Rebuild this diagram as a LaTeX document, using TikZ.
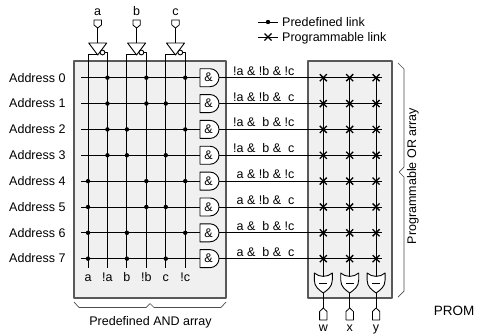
\documentclass[tikz,border=0pt]{standalone}
\usepackage{fontspec}
\setmainfont{Liberation Sans}
\usetikzlibrary{positioning}
\newcommand\off{\phantom{!}}
\tikzset{
  arraybox/.style={draw=black!65,line width=1.2pt,fill=black!6},
  wire/.style={line width=0.9pt},
  pinbox/.style={draw,fill=white,line width=0.8pt},
  bracket/.style={draw=black!70,line width=0.7pt},
}
\begin{document}
\begin{tikzpicture}[x=1pt,y=-1pt,font=\fontsize{12.5}{14}\selectfont,inner sep=0pt,line join=round]
	\useasboundingbox (0,0) rectangle (477,335);
	% the two arrays
	\draw[arraybox] (74,61) rectangle (226,298);
	\draw[arraybox] (308,61) rectangle (392,298);
	% legend
	\draw[wire] (258,22)--(278,22); \fill (268,22) circle(2.2);
	\node[anchor=base west] (lgdpre) at (282,26.3) {Predefined link};
	\draw[wire] (258,37)--(278,37);
	\draw[line width=1.3pt] (264.5,33.5)--(271.5,40.5) (264.5,40.5)--(271.5,33.5);
	\node[anchor=base west] (lgdprog) at (282,41.3) {Programmable link};
	% inputs, buffers and the columns of the AND array
	\foreach \n [count=\k from 0] in {a,b,c}{
		\pgfmathsetmacro\c{97.7+38.9*\k}
		\node[anchor=base] (in\n) at (\c,15) {\n};
		\draw[pinbox] (\c-3.7,20)--(\c+3.7,20)--(\c+3.7,25)--(\c,28)--(\c-3.7,25)--cycle;
		\draw[wire] (\c,28)--(\c,43);
		\draw[wire] (\c-1,54) -| (\c-9.7,268);
		\draw[wire] (\c+7.2,52.5) -| (\c+9.7,268);
		\draw[wire,fill=white] (\c-9,43)--(\c+9,43)--(\c,55)--cycle;
		\draw[wire,fill=white] (\c+4.8,52.5) circle(2.4);
	}
	\foreach \t [count=\j from 0] in {a,!a,b,!b,c,!c}
		\node[anchor=base] (col\j) at (88+19.45*\j,281) {\t};
	% rows, AND gates and product terms
	\foreach \t [count=\i from 0] in {{!a \& !b \& !c},{!a \& !b \& \off c},{!a \& \off b \& !c},{!a \& \off b \& \off c},{\off a \& !b \& !c},{\off a \& !b \& \off c},{\off a \& \off b \& !c},{\off a \& \off b \& \off c}}{
		\pgfmathsetmacro\y{77.7+25.85*\i}
		\node[anchor=base east] (adr\i) at (65.7,\y+4.3) {Address \i};
		\draw[wire] (81,\y)--(200,\y);
		\draw[wire] (219,\y)--(382,\y);
		\draw[wire,fill=white] (200,\y-9)--(210,\y-9) arc(-90:90:9)--(200,\y+9)--cycle;
		\node (and\i) at (208.5,\y) {\&};
		\node[anchor=base west] (term\i) at (233,\y-2.5) {\t};
		\foreach \k in {0,1,2}{
			\pgfmathtruncatemacro\v{mod(floor(\i/2^(2-\k)),2)}
			\pgfmathsetmacro\xd{88+19.45*(2*\k+1-\v)}
			\fill (\xd,\y) circle(2.2);
		}
	}
	% OR array
	\foreach \n [count=\k from 0] in {w,x,y}{
		\pgfmathsetmacro\c{323.3+26.4*\k}
		\draw[wire] (\c,77.7)--(\c,276);
		\foreach \i in {0,...,7}
			\draw[line width=1.3pt] (\c-3.5,77.7+25.85*\i-3.5)--(\c+3.5,77.7+25.85*\i+3.5) (\c-3.5,77.7+25.85*\i+3.5)--(\c+3.5,77.7+25.85*\i-3.5);
		\draw[wire,fill=white] (\c-9,273)--(\c-9,280) .. controls (\c-9,287) and (\c-4,290) .. (\c,293) .. controls (\c+4,290) and (\c+9,287) .. (\c+9,280)--(\c+9,273) .. controls (\c+4,277.5) and (\c-4,277.5) .. (\c-9,273)--cycle;
		\draw[wire] (\c-4,283)--(\c+4,283);
		\draw[wire] (\c,293)--(\c,308);
		\draw[pinbox] (\c,308)--(\c+3.7,311.5)--(\c+3.7,320)--(\c-3.7,320)--(\c-3.7,311.5)--cycle;
		\node[anchor=base] (out\n) at (\c,331) {\n};
	}
	% braces
	\draw[bracket] (74,302)--(79,307.5)--(146,307.5)--(150,303.5)--(154,307.5)--(221,307.5)--(226,302);
	\node[anchor=base] (andlbl) at (150.5,325.7) {Predefined AND array};
	\draw[bracket] (398,63)--(404,69)--(404,167)--(399,172)--(404,177)--(404,291)--(398,297);
	\node[rotate=90] (orlbl) at (413,176) {Programmable OR array};
	\node[anchor=base] (prom) at (454,315) {\fontsize{13.5}{15}\selectfont PROM};
\end{tikzpicture}
\end{document}
